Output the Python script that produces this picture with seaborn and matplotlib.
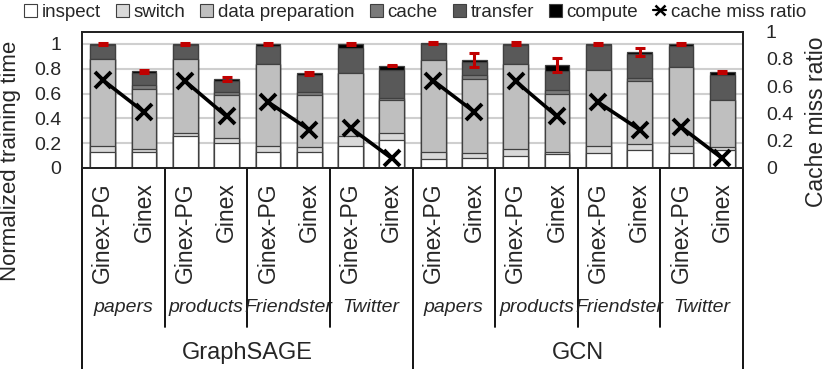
import numpy as np
import pandas as pd
import matplotlib
matplotlib.use("Agg")
import matplotlib.pyplot as plt
import matplotlib.transforms as mtrans
from matplotlib.patches import Patch
from matplotlib.lines import Line2D
import seaborn as sns

# ---------------- data ----------------
models = ["GraphSAGE", "GCN"]
datasets = ["papers", "products", "Friendster", "Twitter"]
systems = ["Ginex-PG", "Ginex"]

# 16 bars: model x dataset x system (Ginex-PG, Ginex)
inspect_t = [0.130, 0.130, 0.256, 0.205, 0.130, 0.130, 0.176, 0.224,
             0.070, 0.083, 0.098, 0.112, 0.118, 0.144, 0.118, 0.144]
switch_t = [0.046, 0.020, 0.026, 0.033, 0.046, 0.036, 0.080, 0.062,
            0.060, 0.035, 0.052, 0.018, 0.060, 0.046, 0.060, 0.022]
dataprep_t = [0.706, 0.488, 0.600, 0.352, 0.666, 0.426, 0.506, 0.258,
              0.740, 0.599, 0.692, 0.467, 0.614, 0.514, 0.632, 0.378]
cache_t = [0.000, 0.034, 0.000, 0.026, 0.000, 0.018, 0.000, 0.019,
           0.000, 0.033, 0.000, 0.033, 0.000, 0.018, 0.000, 0.006]
transfer_t = [0.108, 0.090, 0.108, 0.084, 0.142, 0.140, 0.203, 0.227,
              0.127, 0.106, 0.153, 0.148, 0.203, 0.200, 0.174, 0.200]
compute_t = [0.010, 0.016, 0.010, 0.017, 0.013, 0.012, 0.032, 0.036,
             0.008, 0.016, 0.005, 0.052, 0.005, 0.014, 0.013, 0.020]
err_t = [0.010, 0.015, 0.010, 0.015, 0.008, 0.010, 0.008, 0.008,
         0.008, 0.055, 0.012, 0.055, 0.010, 0.030, 0.008, 0.008]
miss_ratio = [0.645, 0.410, 0.635, 0.378, 0.484, 0.280, 0.294, 0.070,
              0.640, 0.410, 0.635, 0.378, 0.480, 0.280, 0.300, 0.070]

comp_names = ["inspect", "switch", "data preparation", "cache", "transfer", "compute"]
comp_colors = ["#ffffff", "#d9d9d9", "#bfbfbf", "#7a7a7a", "#595959", "#000000"]

# ---------------- style ----------------
sns.set_theme(style="white")
plt.rcParams["font.family"] = ["Liberation Sans", "DejaVu Sans"]

rows = []
for m in models:
    for d in datasets:
        for s in systems:
            rows.append((m, d, s))
df = pd.DataFrame(rows, columns=["model", "dataset", "system"])
df["bar"] = df["model"] + "|" + df["dataset"] + "|" + df["system"]
stack = np.vstack([inspect_t, switch_t, dataprep_t, cache_t, transfer_t, compute_t])
cum = np.cumsum(stack, axis=0)
for i in range(6):
    df[f"c{i}"] = cum[i]
df["pos"] = np.arange(len(df))
df["pair"] = np.arange(len(df)) // 2
df["miss"] = miss_ratio
df["err"] = err_t

W, H = 830, 369
fig = plt.figure(figsize=(W / 100, H / 100), dpi=100)
ax_left, ax_right, ax_bot, ax_top = 82, 743, 168, 31.5
ax = fig.add_axes([ax_left / W, 1 - ax_bot / H, (ax_right - ax_left) / W, (ax_bot - ax_top) / H])

for i in reversed(range(6)):
    sns.barplot(data=df, x="bar", y=f"c{i}", order=list(df["bar"]), color=comp_colors[i],
                saturation=1, width=0.6, edgecolor="#404040", linewidth=0.9,
                errorbar=None, ax=ax)

ax.errorbar(df["pos"], df["c5"], yerr=df["err"], fmt="none", ecolor="#c00000",
            elinewidth=2.2, capsize=3.5, capthick=2.2, zorder=5)

ax.set_axisbelow(True)
ax.yaxis.grid(True, color="#cfcfcf", lw=1.5)
ax.set_ylim(0, 1.1)
yt = [0, 0.2, 0.4, 0.6, 0.8, 1.0]
ytl = ["0", "0.2", "0.4", "0.6", "0.8", "1"]
ax.set_yticks(yt)
ax.set_yticklabels(ytl)
ax.set_xticks(range(16))
ax.set_xticklabels(systems * 8, rotation=90, fontsize=16.5, va="top", ha="center")
ax.tick_params(axis="x", length=0, pad=10)
ax.tick_params(axis="y", length=0, pad=15, labelsize=14)
ax.set_xlabel("")
ax.set_ylabel("")
for sp in ax.spines.values():
    sp.set_color("#222222")
    sp.set_linewidth(1.3)

# cache miss ratio on the right axis
ax2 = ax.twinx()
sns.lineplot(data=df, x="pos", y="miss", units="pair", estimator=None, color="black",
             marker="x", markersize=12, markeredgewidth=2.8, markeredgecolor="black",
             linewidth=2.6, ax=ax2)
for ln in ax2.lines:
    ln.set_linewidth(2.6)
    ln.set_markeredgecolor("black")
    ln.set_markerfacecolor("black")
ax2.set_ylim(0, 1.0)
ax2.set_yticks(yt)
ax2.set_yticklabels(ytl)
ax2.tick_params(axis="y", length=0, pad=16.5, labelsize=14)
ax2.set_xlabel("")
ax2.set_ylabel("")
for sp in ax2.spines.values():
    sp.set_color("#222222")
    sp.set_linewidth(1.3)

# hierarchical x-axis decorations
trans = mtrans.blended_transform_factory(ax.transData, ax.transAxes)
axh = ax_bot - ax_top
def ay(px):
    return -(px - ax_bot) / axh

for x in [1.5, 3.5, 5.5, 9.5, 11.5, 13.5]:
    ax.plot([x, x], [0, ay(327)], transform=trans, clip_on=False, color="black",
            lw=1.3, scalex=False, scaley=False)
for x in [-0.5, 7.5, 15.5]:
    ax.plot([x, x], [0, ay(369)], transform=trans, clip_on=False, color="black",
            lw=1.3, scalex=False, scaley=False)
for mi, m in enumerate(models):
    for di, d in enumerate(datasets):
        xc = mi * 8 + di * 2 + 0.5
        ax.text(xc, ay(307), d, transform=trans, ha="center", va="center",
                style="italic", fontsize=14)
    ax.text(mi * 8 + 3.5, ay(353), m, transform=trans, ha="center", va="center",
            fontsize=17)
ax.set_xlim(-0.5, 15.5)

fig.text(11 / W, 1 - 161 / H, "Normalized training time", rotation=90,
         ha="center", va="center", fontsize=16)
fig.text(816 / W, 1 - 122 / H, "Cache miss ratio", rotation=90,
         ha="center", va="center", fontsize=16.5)

handles = [Patch(facecolor=c, edgecolor="#404040", lw=0.8, label=n)
           for n, c in zip(comp_names, comp_colors)]
handles.append(Line2D([], [], color="black", marker="x", lw=1.6, ms=7, mew=1.8,
                      label="cache miss ratio"))
fig.legend(handles=handles, loc="upper center", bbox_to_anchor=(0.5, 1.0), ncol=7,
           frameon=False, fontsize=13.5, handlelength=0.7, handleheight=0.7,
           handletextpad=0.25, columnspacing=0.8, borderaxespad=0.1, borderpad=0.1)

fig.savefig("out.png", dpi=100)
